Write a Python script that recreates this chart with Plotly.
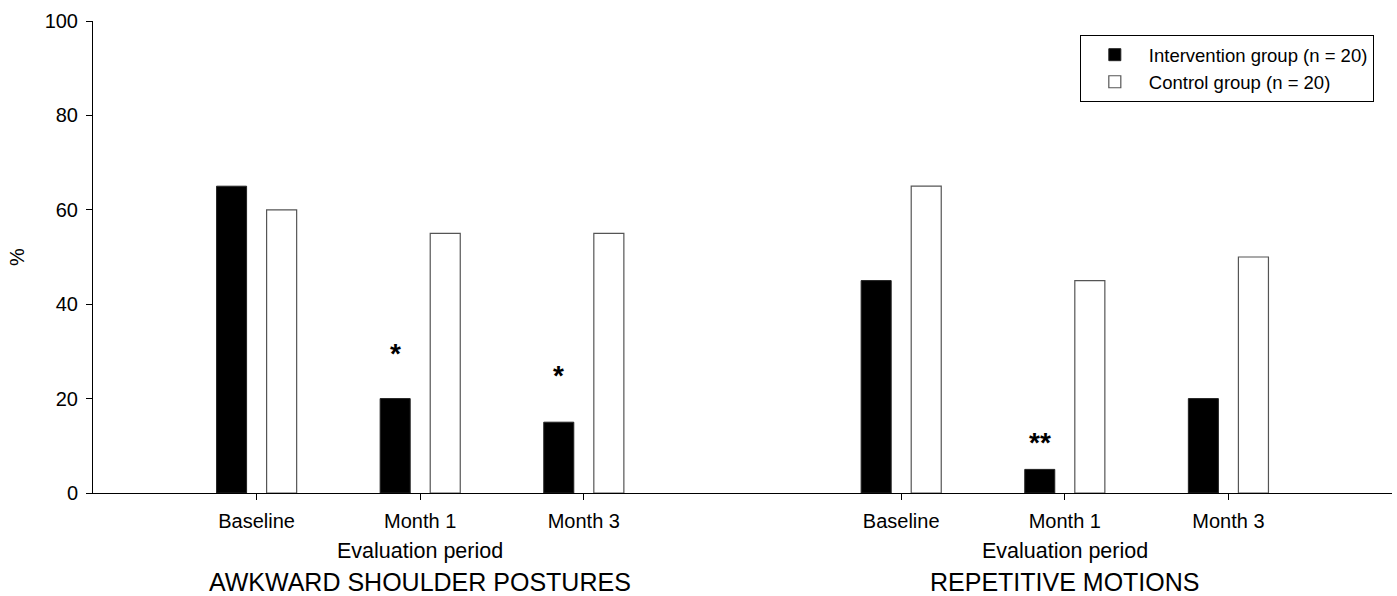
import plotly.graph_objects as go
from plotly.subplots import make_subplots

periods = ["Baseline", "Month 1", "Month 3"]
panel_titles = ["AWKWARD SHOULDER POSTURES", "REPETITIVE MOTIONS"]
series_names = ["Intervention group (n = 20)", "Control group (n = 20)"]

awkward_intervention = [65, 20, 15]
awkward_control = [60, 55, 55]
repetitive_intervention = [45, 5, 20]
repetitive_control = [65, 45, 50]

# significance marks: (panel index, period, label, y level)
sig_marks = [
    (0, "Month 1", "*", 29.5),
    (0, "Month 3", "*", 25.0),
    (1, "Month 1", "**", 10.8),
]

FONT = "Liberation Sans, Arial, Helvetica, sans-serif"

fig = make_subplots(rows=1, cols=2, shared_yaxes=True, horizontal_spacing=0)

panels = [(awkward_intervention, awkward_control), (repetitive_intervention, repetitive_control)]
for i, (iv, cv) in enumerate(panels):
    col = i + 1
    fig.add_trace(go.Bar(x=periods, y=iv, name=series_names[0], legendgroup="int",
                         showlegend=(i == 0),
                         marker=dict(color="black", line=dict(color="#222", width=1))),
                  row=1, col=col)
    fig.add_trace(go.Bar(x=periods, y=cv, name=series_names[1], legendgroup="ctl",
                         showlegend=(i == 0),
                         marker=dict(color="white", line=dict(color="#555", width=1.2))),
                  row=1, col=col)

axis_common = dict(showline=True, linecolor="black", linewidth=1, ticks="outside",
                   ticklen=6, tickcolor="black", showgrid=False, zeroline=False,
                   automargin=False, ticklabelstandoff=4,
                   tickfont=dict(family=FONT, size=20, color="black"))

fig.update_xaxes(**axis_common)
fig.update_layout(
    xaxis=dict(domain=[0, 0.5], range=[-1, 2.97]),
    xaxis2=dict(domain=[0.5, 1], range=[-0.97, 3]),
    yaxis=dict(range=[0, 100], dtick=20, **axis_common,
               title=dict(text="%", font=dict(family=FONT, size=20, color="black"), standoff=14)),
    yaxis2=dict(showline=False, ticks="", showgrid=False, zeroline=False, automargin=False),
)

for i, title in enumerate(panel_titles):
    xr = "x" if i == 0 else "x2"
    fig.add_annotation(x="Month 1", xref=xr, y=-0.123, yref="paper", text="Evaluation period",
                       showarrow=False, yanchor="middle",
                       font=dict(family=FONT, size=21.5, color="black"))
    fig.add_annotation(x="Month 1", xref=xr, y=-0.222, yref="paper", text=title,
                       showarrow=False, yanchor="bottom",
                       font=dict(family=FONT, size=25, color="black"))

for p, per, lab, yv in sig_marks:
    xr = "x" if p == 0 else "x2"
    fig.add_annotation(x=per, xref=xr, y=yv, yref="y", text="<b>" + lab + "</b>", showarrow=False,
                       xshift=-25, yanchor="middle",
                       font=dict(family=FONT, size=28, color="black"))

fig.update_layout(
    width=1397, height=596,
    margin=dict(l=93, r=5, t=21, b=103, autoexpand=False),
    paper_bgcolor="white", plot_bgcolor="white",
    barmode="group", bargap=0.388, bargroupgap=0.4,
    font=dict(family=FONT, color="black"),
    legend=dict(x=0.986, xanchor="right", y=0.970, yanchor="top",
                bordercolor="black", borderwidth=1, bgcolor="white",
                itemwidth=58,
                font=dict(family=FONT, size=18.5, color="black"),
                traceorder="normal"),
)

fig.write_html("out.html", config={"displayModeBar": False},
               post_script="document.body.style.margin='0px';")
